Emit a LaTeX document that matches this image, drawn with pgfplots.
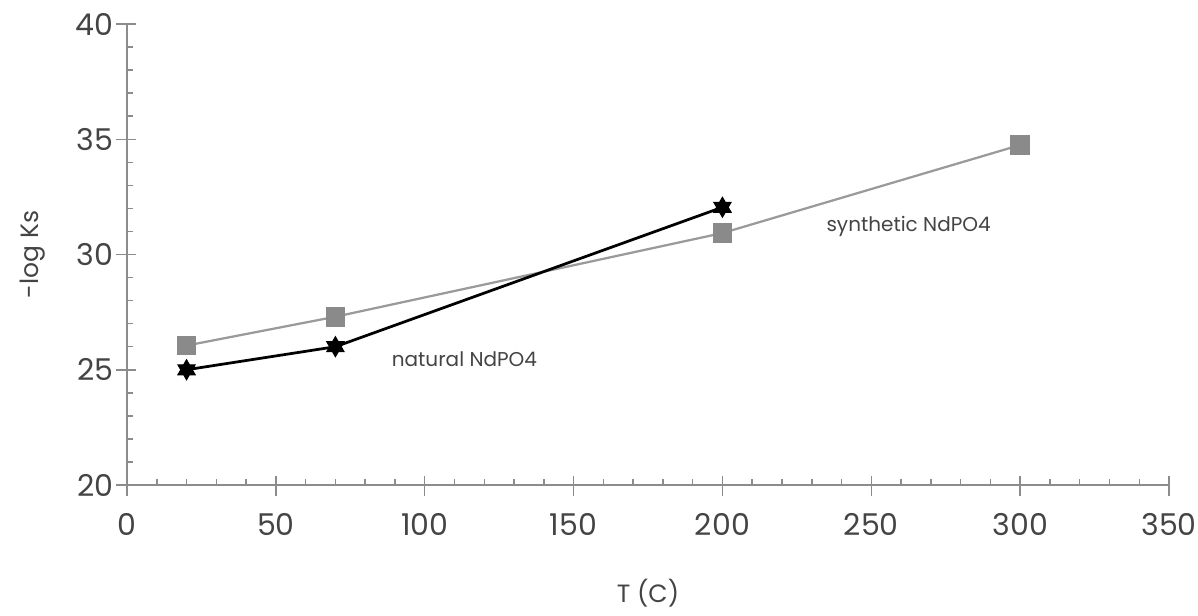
\documentclass[border=0pt]{standalone}
\usepackage{fontspec}
\setmainfont{Poppins}
\usepackage{pgfplots}
\pgfplotsset{compat=1.18}
\definecolor{axgray}{HTML}{8C8C8C}
\definecolor{synth}{HTML}{8A8A8A}
\definecolor{synthline}{HTML}{9A9A9A}
\definecolor{txt}{HTML}{444444}

\pgfdeclareplotmark{hexstar}{%
  \pgfpathmoveto{\pgfqpointpolar{90}{\pgfplotmarksize}}%
  \pgfpathlineto{\pgfqpointpolar{210}{\pgfplotmarksize}}%
  \pgfpathlineto{\pgfqpointpolar{330}{\pgfplotmarksize}}%
  \pgfpathclose
  \pgfpathmoveto{\pgfqpointpolar{270}{\pgfplotmarksize}}%
  \pgfpathlineto{\pgfqpointpolar{30}{\pgfplotmarksize}}%
  \pgfpathlineto{\pgfqpointpolar{150}{\pgfplotmarksize}}%
  \pgfpathclose
  \pgfusepathqfillstroke}

\begin{document}
\begin{tikzpicture}[x=0.4pt,y=0.4pt]
\path[use as bounding box] (-127,-130) rectangle (1071,461+24);
\begin{axis}[
  at={(0,0)}, anchor=south west,
  scale only axis,
  width=416.8pt, height=184.4pt,
  xmin=0, xmax=350, ymin=20, ymax=40,
  axis x line=bottom, axis y line=left,
  axis line style={axgray, line width=0.8pt, -},
  xtick={0,50,...,350}, ytick={20,25,...,40},
  minor x tick num=4, minor y tick num=4,
  tick align=inside,
  major tick length=3.6pt, minor tick length=2.4pt,
  tick style={axgray, line width=0.6pt},
  extra x ticks={0,50,...,350}, extra y ticks={20,25,...,40},
  extra x tick labels={}, extra y tick labels={},
  extra tick style={tick align=outside, major tick length=4.4pt},
  every tick label/.style={font=\fontsize{12}{14}\selectfont, color=txt},
  xticklabel style={yshift=-8pt},
  yticklabel style={xshift=-2pt},
  /pgf/number format/assume math mode=true,
  xlabel={T (C)}, ylabel={-log Ks},
  xlabel style={font=\fontsize{10}{12}\selectfont, color=txt, yshift=-6pt},
  ylabel style={font=\fontsize{10}{12}\selectfont, color=txt, yshift=1pt},
  clip=false,
]
\addplot[synthline, line width=0.9pt, mark=square*, mark size=3.5pt,
  mark options={fill=synth, draw=synth, rounded corners=1pt}]
  coordinates {(20,26.05) (70,27.3) (200,30.93) (300,34.75)};
\addplot[black, line width=1.1pt, mark=hexstar, mark size=4pt,
  mark options={fill=black, draw=black, line width=0.4pt}]
  coordinates {(20,25.0) (70,26.0) (200,32.05)};
\node[anchor=west, font=\fontsize{8}{10}\selectfont, color=txt] at (axis cs:232,31.2) {synthetic NdPO4};
\node[anchor=west, font=\fontsize{8}{10}\selectfont, color=txt] at (axis cs:86,25.45) {natural NdPO4};
\end{axis}
\end{tikzpicture}
\end{document}
